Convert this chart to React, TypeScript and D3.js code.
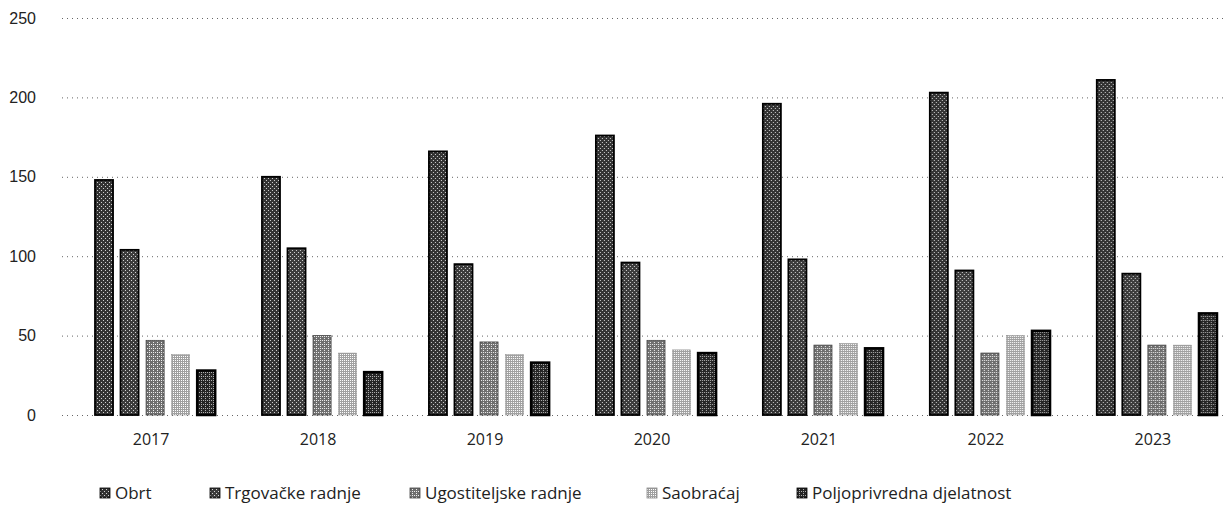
import * as d3 from "d3";
import { useEffect, useRef } from "react";

const years = ["2017", "2018", "2019", "2020", "2021", "2022", "2023"];
const seriesNames = ["Obrt", "Trgovačke radnje", "Ugostiteljske radnje", "Saobraćaj", "Poljoprivredna djelatnost"];
const obrt = [148, 150, 166, 176, 196, 203, 211];
const trgovacke = [104, 105, 95, 96, 98, 91, 89];
const ugostiteljske = [47, 50, 46, 47, 44, 39, 44];
const saobracaj = [38, 39, 38, 41, 45, 50, 44];
const poljoprivredna = [28, 27, 33, 39, 42, 53, 64];
const yTicks = [0, 50, 100, 150, 200, 250];

const seriesValues = [obrt, trgovacke, ugostiteljske, saobracaj, poljoprivredna];

// base grey, dot colour, border
const looks = [
  { base: "#333", dot: "#d0d0d0", stroke: "#000", sw: 1.8 },
  { base: "#3c3c3c", dot: "#d4d4d4", stroke: "#000", sw: 1.8 },
  { base: "#6e6e6e", dot: "#eee", stroke: "#444", sw: 0.8 },
  { base: "#a0a0a0", dot: "#fff", stroke: "#888", sw: 0.5 },
  { base: "#262626", dot: "#b0b0b0", stroke: "#000", sw: 2.5 },
];

export default function App({
  width = 1226,
  height = 512,
  marginTop = 18,
  marginBottom = 97,
  marginLeft = 70
}: {
  width?: number,
  height?: number,
  marginTop?: number,
  marginBottom?: number,
  marginLeft?: number
}) {
  const axisy: any = useRef();

  const x0: any = d3.scaleBand(years, [95, 1217])
    .paddingInner(0.28)
    .paddingOuter(0);
  const x1: any = d3.scaleBand(d3.range(seriesNames.length), [0, x0.bandwidth()])
    .paddingInner(0.294);
  const y: any = d3.scaleLinear([0, 250], [height - marginBottom, marginTop]);

  useEffect(() => {
    void d3.select(axisy.current)
      .call(d3.axisLeft(y).tickValues(yTicks).tickSize(0).tickPadding(34))
      .call(g => g.select(".domain").remove())
      .call(g => g.selectAll(".tick text")
        .attr("font-family", "'Liberation Sans', Arial, sans-serif")
        .attr("font-size", 16)
        .attr("fill", "#222"))
      .call(g => g.selectAll(".tick line").clone()
        .attr("x1", -8)
        .attr("x2", width - marginLeft)
        .attr("stroke", "#666")
        .attr("stroke-width", 1)
        .attr("stroke-dasharray", "1,4"));
  }, [marginLeft, width, y]);

  const legendX = [100, 210, 410, 647, 797];

  return (
    <svg width={width} height={height} style={{ position: "absolute", left: 0, top: 0, background: "#fff" }}>
      <defs>
        {looks.map((l, i) => (
          <pattern key={i} id={`pat${i}`} width={4} height={4} patternUnits="userSpaceOnUse">
            <rect width={4} height={4} fill={l.base} />
            <rect x={0} y={0} width={1} height={1} fill={l.dot} />
            <rect x={2} y={2} width={1} height={1} fill={l.dot} />
            {i >= 2 && <rect x={2} y={0} width={1} height={1} fill={l.dot} />}
            {i === 3 && <rect x={0} y={2} width={1} height={1} fill={l.dot} />}
          </pattern>
        ))}
      </defs>
      <g ref={axisy} transform={`translate(${marginLeft}, 0)`} />
      {years.map((yr, j) => (
        <g key={yr} transform={`translate(${x0(yr)}, 0)`}>
          {seriesValues.map((vals, i) => (
            <rect
              key={i}
              x={x1(i)}
              y={y(vals[j])}
              width={x1.bandwidth()}
              height={y(0) - y(vals[j])}
              fill={`url(#pat${i})`}
              stroke={looks[i].stroke}
              strokeWidth={looks[i].sw}
            />
          ))}
          <text
            x={x0.bandwidth() / 2 - 4}
            y={y(0) + 30}
            textAnchor="middle"
            fontFamily="'Open Sans', sans-serif"
            fontSize={16}
            fill="#222">
            {yr}
          </text>
        </g>
      ))}
      <g fontFamily="'Open Sans', sans-serif" fontSize={17} fill="#222">
        {seriesNames.map((name, i) => (
          <g key={name} transform={`translate(${legendX[i]}, 499)`}>
            <rect x={0} y={-11} width={10} height={10} fill={`url(#pat${i})`} stroke={looks[i].stroke} strokeWidth={0.8} />
            <text x={15} y={0}>{name}</text>
          </g>
        ))}
      </g>
    </svg>
  );
}
